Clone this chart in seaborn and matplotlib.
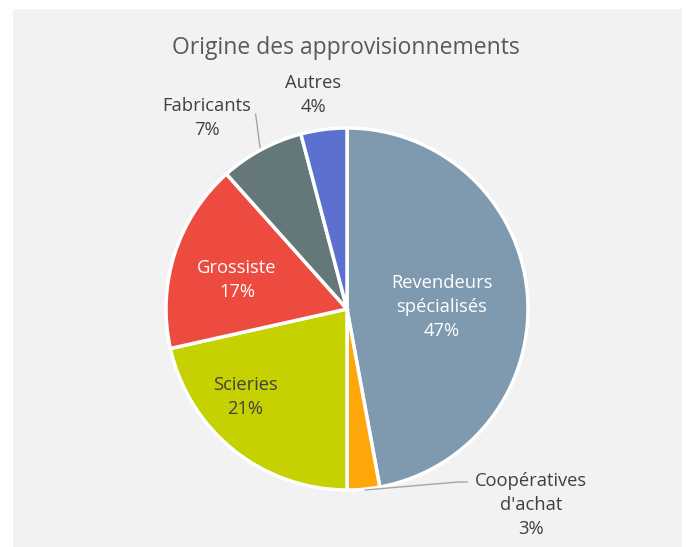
import matplotlib.pyplot as plt
import seaborn as sns
from matplotlib.patches import Rectangle

# STYLE
sns.set_style("white")
plt.rcParams['font.family'] = ['Open Sans', 'DejaVu Sans']

# DATA
categories = ["Revendeurs\nspécialisés", "Coopératives\nd'achat", "Scieries",
              "Grossiste", "Fabricants", "Autres"]
values = [47.1, 2.9, 21.5, 16.9, 7.5, 4.1]
pct_labels = ["47%", "3%", "21%", "17%", "7%", "4%"]
colors = ["#7f99ae", "#ffa60a", "#c5d100", "#ee4b40", "#647879", "#5b70cf"]

fig = plt.figure(figsize=(6.86, 5.47), dpi=100)
fig.patch.set_facecolor("white")
fig.patches.append(Rectangle((13 / 686, 0), 669 / 686, 538 / 547,
                             transform=fig.transFigure, facecolor="#f2f2f2",
                             edgecolor="none", zorder=-1))

# pie axes: center (347, 309) px, radius 181 px
ax = fig.add_axes([(347 - 181) / 686, (547 - 309 - 181) / 547, 362 / 686, 362 / 547])
ax.set_facecolor("none")

wedges, _ = ax.pie(values, colors=colors, startangle=90, counterclock=False,
                   radius=1, wedgeprops=dict(edgecolor="white", linewidth=2.5))
ax.set_xlim(-1, 1)
ax.set_ylim(-1, 1)
ax.axis("off")

# labels (pixel positions -> data coords)
pos_px = [(442, 307), (531, 505), (245, 397), (237, 280), (207, 118), (313, 95)]
txt_colors = ["white", "#404040", "#404040", "white", "#404040", "#404040"]
for cat, p, (px, py), c in zip(categories, pct_labels, pos_px, txt_colors):
    ax.text((px - 347) / 181, (309 - py) / 181, f"{cat}\n{p}", ha="center",
            va="center", color=c, fontsize=13.2, linespacing=1.4, clip_on=False)

# leader lines
ax.plot([-0.505, -0.48], [1.077, 0.89], color="#a6a6a6", lw=1, clip_on=False)
ax.plot([0.665, 0.61, 0.099], [-0.956, -0.956, -1.0], color="#a6a6a6", lw=1, clip_on=False)

fig.text(346 / 686, 1 - 48 / 547, "Origine des approvisionnements", ha="center",
         va="center", fontsize=16.5, color="#595959")

plt.savefig("out.png", dpi=100)
